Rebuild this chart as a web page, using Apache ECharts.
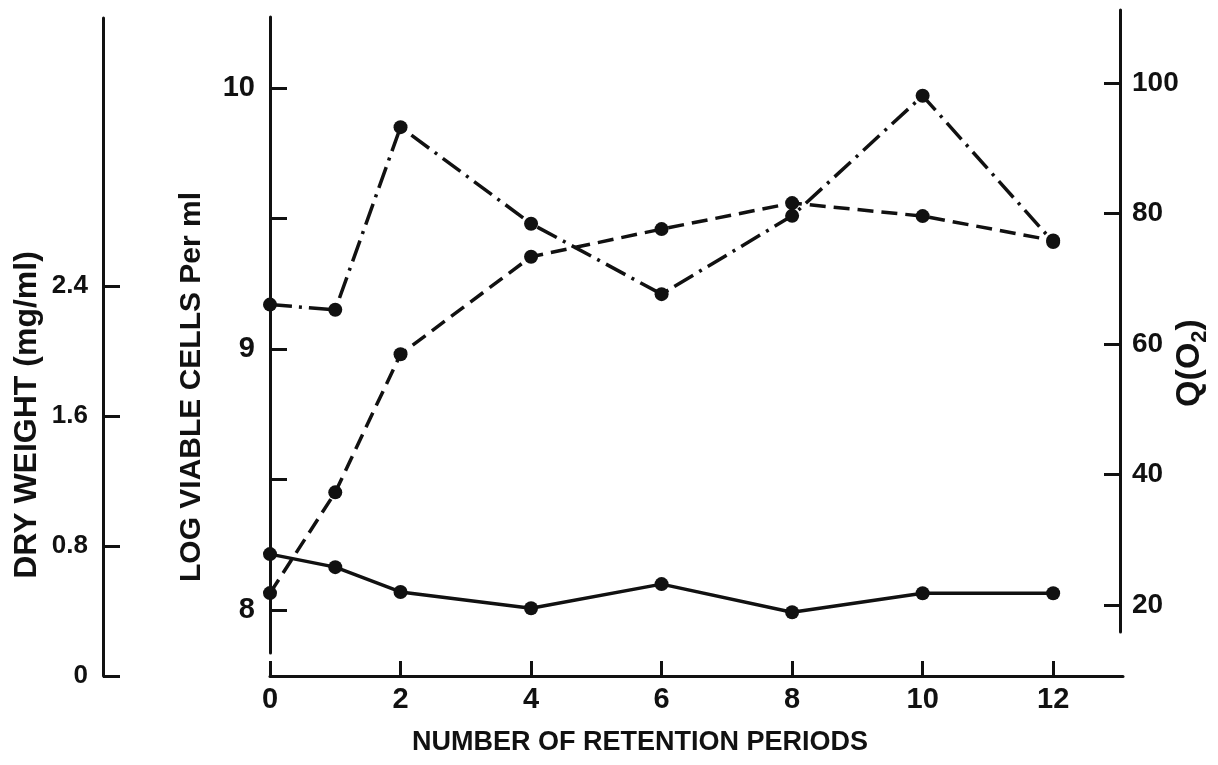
<!DOCTYPE html>
<html>
<head>
<meta charset="utf-8">
<script src="https://cdn.jsdelivr.net/npm/echarts@6/dist/echarts.min.js"></script>
<style>
  html, body { margin: 0; padding: 0; background: #fff; }
  #chart { width: 1218px; height: 765px; }
</style>
</head>
<body>
<div id="chart"></div>
<script>
// ---- data ----
const retentionPeriods = [0, 1, 2, 4, 6, 8, 10, 12];
const dryWeight = [0.51, 1.13, 1.98, 2.58, 2.75, 2.91, 2.83, 2.68];     // mg/ml (dashed)
const logViableCells = [9.17, 9.15, 9.85, 9.48, 9.21, 9.51, 9.97, 9.41]; // log cells/ml (dash-dot)
const qO2 = [27.8, 25.8, 22.0, 19.5, 23.2, 18.9, 21.8, 21.8];           // Q(O2) (solid)
const xTickValues = [0, 2, 4, 6, 8, 10, 12];
const dryTickValues = [0, 0.8, 1.6, 2.4];
const logTickValues = [8, 8.5, 9, 9.5, 10];
const logLabelValues = [8, 9, 10];
const qTickValues = [20, 40, 60, 80, 100];

const pairs = (ys) => retentionPeriods.map((x, i) => [x, ys[i]]);

const INK = '#111';
const NARROW = "'Liberation Sans Narrow', 'Arial Narrow', 'Liberation Sans', Arial, sans-serif";
const SANS = "'Liberation Sans', Arial, Helvetica, sans-serif";

const chart = echarts.init(document.getElementById('chart'), null, { renderer: 'canvas' });

const axisLine = { show: true, onZero: false, lineStyle: { color: INK, width: 3 } };
const hiddenX = (gi) => ({ type: 'value', gridIndex: gi, min: 0, max: 13.07, show: false });

const option = {
  backgroundColor: '#fff',
  animation: false,
  grid: [
    { left: 270, right: 95, top: 18, bottom: 89 },   // dry weight + x axis
    { left: 270, right: 95, top: 17, bottom: 112 },  // log viable cells
    { left: 270, right: 95, top: 10, bottom: 133 }   // Q(O2)
  ],
  xAxis: [
    {
      type: 'value', gridIndex: 0, min: 0, max: 13.07,
      axisLine: axisLine,
      axisTick: { show: true, inside: true, length: 15, lineStyle: { color: INK, width: 3 }, customValues: xTickValues },
      axisLabel: { show: true, margin: 9, color: INK, fontFamily: NARROW, fontWeight: 'bold', fontSize: 29, customValues: xTickValues },
      splitLine: { show: false }
    },
    hiddenX(1),
    hiddenX(2)
  ],
  yAxis: [
    {
      type: 'value', gridIndex: 0, position: 'left', offset: 167, min: 0, max: 4.049,
      axisLine: axisLine,
      axisTick: { show: true, inside: true, length: 17, lineStyle: { color: INK, width: 3 }, customValues: dryTickValues },
      axisLabel: { show: true, margin: 15, color: INK, fontFamily: NARROW, fontWeight: 'bold', fontSize: 26,
        customValues: dryTickValues, formatter: (v) => (v === 0 ? '0' : v.toFixed(1)) },
      splitLine: { show: false }
    },
    {
      type: 'value', gridIndex: 1, position: 'left', min: 7.835, max: 10.272,
      axisLine: axisLine,
      axisTick: { show: true, inside: true, length: 17, lineStyle: { color: INK, width: 3 }, customValues: logTickValues },
      axisLabel: { show: true, margin: 15, color: INK, fontFamily: NARROW, fontWeight: 'bold', fontSize: 29,
        customValues: logLabelValues, formatter: (v) => String(Math.round(v)) },
      splitLine: { show: false }
    },
    {
      type: 'value', gridIndex: 2, position: 'right', offset: -3, min: 15.862, max: 111.19,
      axisLine: axisLine,
      axisTick: { show: true, inside: true, length: 16, lineStyle: { color: INK, width: 3 }, customValues: qTickValues },
      axisLabel: { show: true, margin: 12, color: INK, fontFamily: NARROW, fontWeight: 'bold', fontSize: 28,
        customValues: qTickValues, formatter: (v) => String(Math.round(v)) },
      splitLine: { show: false }
    }
  ],
  series: [
    {
      name: 'DRY WEIGHT', type: 'line', xAxisIndex: 0, yAxisIndex: 0,
      data: pairs(dryWeight),
      symbol: 'circle', symbolSize: 14,
      itemStyle: { color: INK },
      lineStyle: { color: INK, width: 3.5, type: [16, 8] },
      z: 3
    },
    {
      name: 'LOG VIABLE CELLS', type: 'line', xAxisIndex: 1, yAxisIndex: 1,
      data: pairs(logViableCells),
      symbol: 'circle', symbolSize: 14,
      itemStyle: { color: INK },
      lineStyle: { color: INK, width: 3.5, type: [22, 7, 3, 7] },
      z: 3
    },
    {
      name: 'Q(O2)', type: 'line', xAxisIndex: 2, yAxisIndex: 2,
      data: pairs(qO2),
      symbol: 'circle', symbolSize: 14,
      itemStyle: { color: INK },
      lineStyle: { color: INK, width: 3.5, type: 'solid' },
      z: 3
    }
  ],
  graphic: [
    {
      type: 'text', x: 27, y: 415, rotation: Math.PI / 2,
      style: { text: 'DRY WEIGHT (mg/ml)', fill: INK, font: 'bold 32px ' + SANS, textAlign: 'center', textVerticalAlign: 'middle' }
    },
    {
      type: 'text', x: 192, y: 387, rotation: Math.PI / 2,
      style: { text: 'LOG VIABLE CELLS Per ml', fill: INK, font: 'bold 30px ' + SANS, textAlign: 'center', textVerticalAlign: 'middle' }
    },
    {
      type: 'text', x: 1190, y: 363, rotation: Math.PI / 2,
      style: {
        text: '{a|Q(O}{b|2}{a|)}', fill: INK, textAlign: 'center', textVerticalAlign: 'middle',
        rich: {
          a: { fontFamily: SANS, fontWeight: 'bold', fontSize: 34, fill: INK, lineHeight: 42 },
          b: { fontFamily: SANS, fontWeight: 'bold', fontSize: 22, fill: INK, verticalAlign: 'bottom', padding: [14, 0, 0, 0], lineHeight: 42 }
        }
      }
    },
    {
      type: 'text', x: 640, y: 743,
      style: { text: 'NUMBER OF RETENTION PERIODS', fill: INK, font: 'bold 27px ' + SANS, textAlign: 'center', textVerticalAlign: 'middle' }
    }
  ]
};

chart.setOption(option);
</script>
</body>
</html>
